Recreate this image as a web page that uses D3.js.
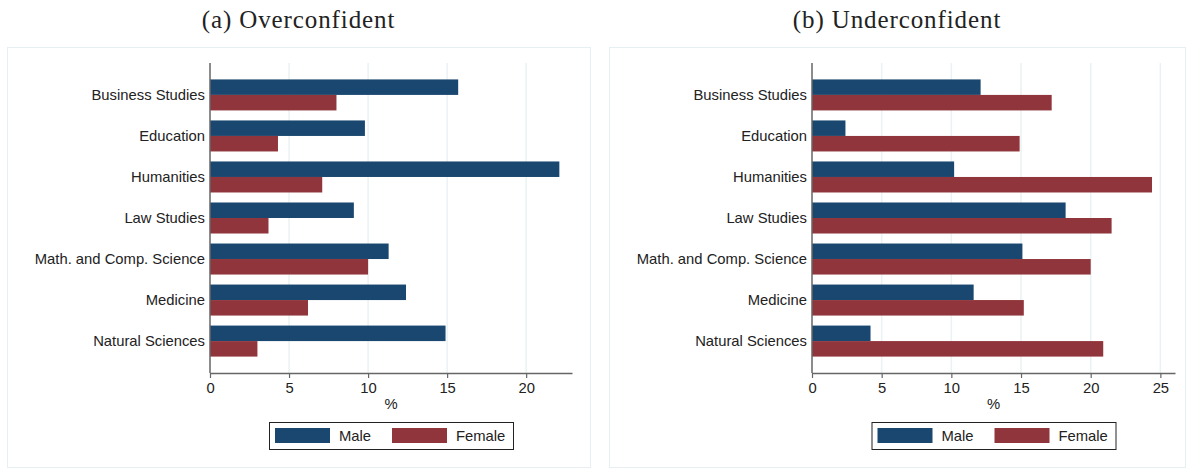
<!DOCTYPE html>
<html>
<head>
<meta charset="utf-8">
<script src="https://cdn.jsdelivr.net/npm/d3@7"></script>
<style>
  body { margin: 0; background: #fff; }
  svg text { font-family: "Liberation Sans", Arial, sans-serif; fill: #222; }
  .title { font-family: "Liberation Serif", "Times New Roman", serif; }
</style>
</head>
<body>
<div id="chart"></div>
<script>
var categories = ["Business Studies", "Education", "Humanities", "Law Studies",
  "Math. and Comp. Science", "Medicine", "Natural Sciences"];
var series = ["Male", "Female"];

var overMale = [15.7, 9.8, 22.1, 9.1, 11.3, 12.4, 14.9];
var overFemale = [8.0, 4.3, 7.1, 3.7, 10.0, 6.2, 3.0];
var underMale = [12.1, 2.4, 10.2, 18.2, 15.1, 11.6, 4.2];
var underFemale = [17.2, 14.9, 24.4, 21.5, 20.0, 15.2, 20.9];

var overTicks = [0, 5, 10, 15, 20];
var underTicks = [0, 5, 10, 15, 20, 25];

var width = 1188, height = 469;
var color = d3.scaleOrdinal().domain(series).range(["#1a476f", "#90353b"]);
var fs = "14.8px";

var svg = d3.select("#chart").append("svg")
  .attr("width", width)
  .attr("height", height);

function drawPanel(opts) {
  var g = svg.append("g");

  // panel frame
  g.append("rect")
    .attr("x", opts.box[0] + 0.5).attr("y", 47.5)
    .attr("width", opts.box[1] - opts.box[0]).attr("height", 420)
    .attr("fill", "none").attr("stroke", "#e6eff1");

  g.append("text")
    .attr("class", "title")
    .attr("x", (opts.box[0] + opts.box[1]) / 2)
    .attr("y", 28)
    .attr("text-anchor", "middle")
    .style("font-size", "25px")
    .style("letter-spacing", "0.9px")
    .text(opts.title);

  var x = d3.scaleLinear().domain(opts.domain).range(opts.xr);
  var y = d3.scaleBand().domain(categories).range([63, 373])
    .paddingInner(0.244).paddingOuter(0.4);
  var y1 = d3.scaleBand().domain(series).range([0, y.bandwidth()]);

  // grid
  g.selectAll(".grid")
    .data(opts.ticks.filter(function (d) { return d > 0; }))
    .enter().append("line")
    .attr("x1", function (d) { return x(d); })
    .attr("x2", function (d) { return x(d); })
    .attr("y1", 63).attr("y2", 373)
    .attr("stroke", "#eaf2f3").attr("stroke-width", 1.5);

  var rows = categories.map(function (c, i) {
    return { cat: c, vals: [opts.male[i], opts.female[i]] };
  });

  var grp = g.selectAll(".cat")
    .data(rows)
    .enter().append("g")
    .attr("transform", function (d) { return "translate(0," + y(d.cat) + ")"; });

  grp.selectAll("rect")
    .data(function (d) { return series.map(function (s, j) { return { s: s, v: d.vals[j] }; }); })
    .enter().append("rect")
    .attr("x", x(0))
    .attr("y", function (d) { return y1(d.s); })
    .attr("width", function (d) { return x(d.v) - x(0); })
    .attr("height", y1.bandwidth())
    .attr("fill", function (d) { return color(d.s); });

  // category labels
  g.selectAll(".lab")
    .data(categories)
    .enter().append("text")
    .attr("x", x(0) - 5)
    .attr("y", function (d) { return y(d) + y.bandwidth() / 2; })
    .attr("dy", "0.35em")
    .attr("text-anchor", "end")
    .style("font-size", fs)
    .text(function (d) { return d; });

  // y axis line
  g.append("line")
    .attr("x1", x(0)).attr("x2", x(0))
    .attr("y1", 63).attr("y2", 373)
    .attr("stroke", "#666").attr("stroke-width", 1.5);

  var axis = g.append("g")
    .attr("transform", "translate(0,373)")
    .call(d3.axisBottom(x).tickValues(opts.ticks).tickSize(5).tickSizeOuter(0).tickPadding(4));
  axis.select(".domain").attr("stroke", "#666").attr("stroke-width", 1.5);
  axis.selectAll(".tick line").attr("stroke", "#666").attr("stroke-width", 1.2);
  axis.selectAll(".tick text")
    .style("font-size", fs).style("font-family", "Liberation Sans, Arial, sans-serif")
    .attr("fill", "#222");

  var mid = (opts.xr[0] + opts.xr[1]) / 2;
  g.append("text")
    .attr("x", mid).attr("y", 409)
    .attr("text-anchor", "middle")
    .style("font-size", fs)
    .text("%");

  // legend
  var lw = 244, lx = mid - lw / 2;
  var leg = g.append("g").attr("transform", "translate(" + lx + ",422)");
  leg.append("rect")
    .attr("x", 0.5).attr("y", 0.5).attr("width", lw).attr("height", 27)
    .attr("fill", "#fff").attr("stroke", "#222").attr("stroke-width", 1);
  var items = leg.selectAll(".item")
    .data(series)
    .enter().append("g")
    .attr("transform", function (d, i) { return "translate(" + (6 + i * 117) + ",0)"; });
  items.append("rect")
    .attr("x", 0).attr("y", 6).attr("width", 55).attr("height", 15)
    .attr("fill", function (d) { return color(d); });
  items.append("text")
    .attr("x", 64).attr("y", 14).attr("dy", "0.35em")
    .style("font-size", fs)
    .text(function (d) { return d; });
}

drawPanel({
  title: "(a) Overconfident", box: [7, 590],
  domain: [0, 22.9], xr: [210, 572], ticks: overTicks,
  male: overMale, female: overFemale
});

drawPanel({
  title: "(b) Underconfident", box: [609, 1185],
  domain: [0, 26.05], xr: [812, 1175], ticks: underTicks,
  male: underMale, female: underFemale
});
</script>
</body>
</html>
